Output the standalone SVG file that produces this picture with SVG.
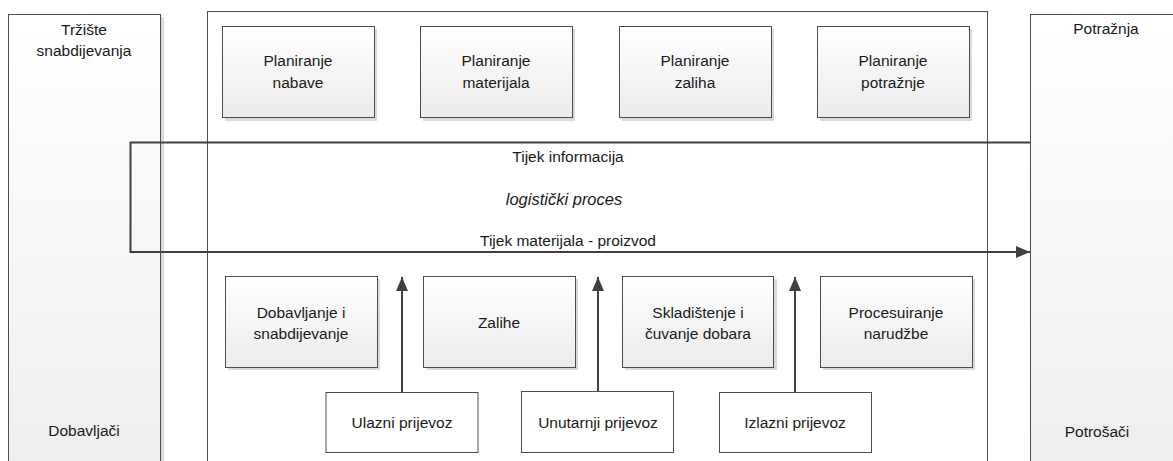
<svg xmlns="http://www.w3.org/2000/svg" width="1173" height="461" viewBox="0 0 1173 461">
<style>
text{font-family:"Liberation Sans",Arial,sans-serif;font-size:15.5px;fill:#1a1a1a;text-anchor:middle}
.box{fill:url(#g);stroke:#4d4d4d;stroke-width:1}
.big{fill:url(#gb);stroke:#4d4d4d;stroke-width:1}
.sh{fill:#dadada}
.tb{fill:#ffffff;stroke:#4d4d4d;stroke-width:1}
.ar{fill:none;stroke:#404040;stroke-width:2;marker-end:url(#ah)}
</style>
<defs>
<linearGradient id="g" x1="0" y1="0" x2="0" y2="1"><stop offset="0" stop-color="#ffffff"/><stop offset="1" stop-color="#ebebeb"/></linearGradient>
<linearGradient id="gb" x1="0" y1="0" x2="0" y2="1"><stop offset="0" stop-color="#ffffff"/><stop offset="1" stop-color="#eeeeee"/></linearGradient>
<marker id="ah" viewBox="0 0 10 10" refX="10" refY="5" markerWidth="14" markerHeight="12" orient="auto" markerUnits="userSpaceOnUse" preserveAspectRatio="none"><path d="M0,0 L10,5 L0,10 z" fill="#404040"/></marker>
</defs>
<rect width="1173" height="461" fill="#ffffff"/>
<g id="trziste">
<rect class="sh" x="11" y="17" width="153" height="450"/>
<rect class="big" x="8.5" y="14.5" width="152" height="450"/>
<text x="84" y="35">Tržište</text>
<text x="84" y="56">snabdijevanja</text>
<text x="84" y="436">Dobavljači</text>
</g>
<g id="logisticki">
<rect x="207.5" y="11.5" width="780" height="455" fill="#ffffff" stroke="#4d4d4d" stroke-width="1"/>
<text x="564" y="205" style="font-style:italic;font-size:16.5px">logistički proces</text>
</g>
<g id="potraznja">
<rect class="sh" x="1033" y="17" width="150" height="450"/>
<rect class="big" x="1030.5" y="14.5" width="150" height="450"/>
<text x="1106" y="34">Potražnja</text>
<text x="1097" y="437">Potrošači</text>
</g>
<g id="plan-nabave"><rect class="sh" x="225" y="29" width="152" height="92"/><rect class="box" x="222.5" y="26.5" width="152" height="91"/><text x="298" y="66">Planiranje</text><text x="298" y="88">nabave</text></g>
<g id="plan-materijala"><rect class="sh" x="423" y="29" width="152" height="92"/><rect class="box" x="420.5" y="26.5" width="152" height="91"/><text x="496" y="66">Planiranje</text><text x="496" y="88">materijala</text></g>
<g id="plan-zaliha"><rect class="sh" x="622" y="29" width="152" height="92"/><rect class="box" x="619.5" y="26.5" width="152" height="91"/><text x="695" y="66">Planiranje</text><text x="695" y="88">zaliha</text></g>
<g id="plan-potraznje"><rect class="sh" x="820" y="29" width="152" height="92"/><rect class="box" x="817.5" y="26.5" width="152" height="91"/><text x="893" y="66">Planiranje</text><text x="893" y="88">potražnje</text></g>
<g id="dobavljanje"><rect class="sh" x="228" y="279" width="152" height="91"/><rect class="box" x="225.5" y="276.5" width="152" height="91"/><text x="301" y="318">Dobavljanje i</text><text x="301" y="339">snabdijevanje</text></g>
<g id="zalihe"><rect class="sh" x="426" y="279" width="152" height="91"/><rect class="box" x="423.5" y="276.5" width="152" height="91"/><text x="499" y="328">Zalihe</text></g>
<g id="skladistenje"><rect class="sh" x="625" y="279" width="152" height="91"/><rect class="box" x="622.5" y="276.5" width="151" height="91"/><text x="698" y="318">Skladištenje i</text><text x="698" y="339">čuvanje dobara</text></g>
<g id="procesuiranje"><rect class="sh" x="823" y="279" width="152" height="91"/><rect class="box" x="820.5" y="276.5" width="152" height="91"/><text x="896" y="318">Procesuiranje</text><text x="896" y="339">narudžbe</text></g>
<g id="ulazni"><rect class="tb" x="326" y="392.5" width="152" height="60"/><text x="402" y="428">Ulazni prijevoz</text></g>
<g id="unutarnji"><rect class="tb" x="521.5" y="391.5" width="152" height="61"/><text x="598" y="428">Unutarnji prijevoz</text></g>
<g id="izlazni"><rect class="tb" x="719.5" y="392.5" width="152" height="60"/><text x="795" y="428">Izlazni prijevoz</text></g>
<g id="connectors">
<path class="ar" d="M1030,142.5 H130.5 V252 H1030"/>
<path class="ar" d="M402,392 V277"/>
<path class="ar" d="M598,391 V277"/>
<path class="ar" d="M795,392 V277"/>
<text x="568" y="162">Tijek informacija</text>
<text x="568" y="246">Tijek materijala - proizvod</text>
</g>
</svg>
